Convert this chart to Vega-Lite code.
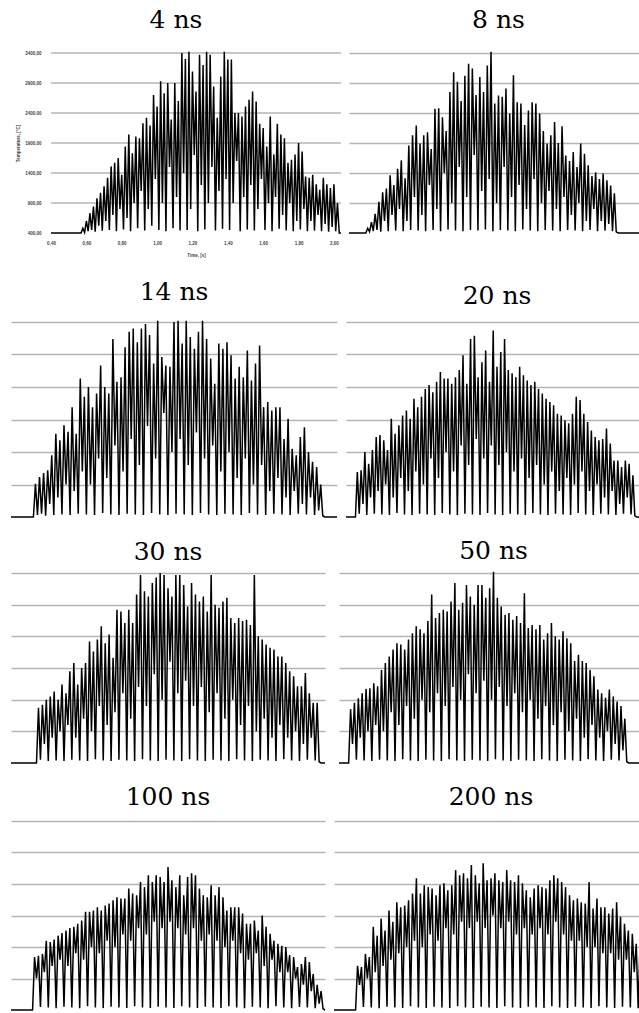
{
"$schema": "https://vega.github.io/schema/vega-lite/v6.json",
"background": "white",
"padding": {"left": 8, "top": 7, "right": 0, "bottom": 0},
"config": {
  "view": {"stroke": null},
  "title": {"font": "DejaVu Serif", "fontSize": 25, "fontWeight": "normal", "color": "black", "anchor": "middle", "frame": "group"},
  "line": {"color": "black", "strokeWidth": 1.5, "clip": true}
},
"datasets": {
"d4": [{"t":0.4,"v":400},{"t":0.57,"v":400},{"t":0.58,"v":480},{"t":0.59,"v":410},{"t":0.6,"v":600},{"t":0.61,"v":430},{"t":0.62,"v":730},{"t":0.63,"v":450},{"t":0.64,"v":840},{"t":0.65,"v":420},{"t":0.66,"v":980},{"t":0.67,"v":520},{"t":0.68,"v":1070},{"t":0.69,"v":440},{"t":0.7,"v":1180},{"t":0.71,"v":600},{"t":0.72,"v":1320},{"t":0.73,"v":450},{"t":0.74,"v":1510},{"t":0.75,"v":700},{"t":0.76,"v":1570},{"t":0.77,"v":430},{"t":0.78,"v":1650},{"t":0.79,"v":800},{"t":0.8,"v":1370},{"t":0.81,"v":460},{"t":0.82,"v":1840},{"t":0.83,"v":650},{"t":0.84,"v":2040},{"t":0.85,"v":430},{"t":0.86,"v":1730},{"t":0.87,"v":900},{"t":0.88,"v":2010},{"t":0.89,"v":480},{"t":0.9,"v":1980},{"t":0.91,"v":1100},{"t":0.92,"v":2230},{"t":0.93,"v":440},{"t":0.94,"v":2320},{"t":0.95,"v":800},{"t":0.96,"v":2190},{"t":0.97,"v":520},{"t":0.98,"v":2700},{"t":0.99,"v":1300},{"t":1.0,"v":2510},{"t":1.01,"v":450},{"t":1.02,"v":2930},{"t":1.03,"v":900},{"t":1.04,"v":2730},{"t":1.05,"v":430},{"t":1.06,"v":2900},{"t":1.07,"v":1500},{"t":1.08,"v":2290},{"t":1.09,"v":480},{"t":1.1,"v":2900},{"t":1.11,"v":1000},{"t":1.12,"v":2600},{"t":1.13,"v":440},{"t":1.14,"v":3400},{"t":1.15,"v":1400},{"t":1.16,"v":3300},{"t":1.17,"v":450},{"t":1.18,"v":3420},{"t":1.19,"v":800},{"t":1.2,"v":3090},{"t":1.21,"v":1700},{"t":1.22,"v":2760},{"t":1.23,"v":430},{"t":1.24,"v":3370},{"t":1.25,"v":1200},{"t":1.26,"v":3200},{"t":1.27,"v":460},{"t":1.28,"v":3420},{"t":1.29,"v":900},{"t":1.3,"v":3370},{"t":1.31,"v":1500},{"t":1.32,"v":2840},{"t":1.33,"v":440},{"t":1.34,"v":2320},{"t":1.35,"v":1100},{"t":1.36,"v":3010},{"t":1.37,"v":470},{"t":1.38,"v":3420},{"t":1.39,"v":1300},{"t":1.4,"v":3290},{"t":1.41,"v":450},{"t":1.42,"v":3290},{"t":1.43,"v":900},{"t":1.44,"v":2400},{"t":1.45,"v":1600},{"t":1.46,"v":2400},{"t":1.47,"v":430},{"t":1.48,"v":2340},{"t":1.49,"v":1000},{"t":1.5,"v":2510},{"t":1.51,"v":460},{"t":1.52,"v":2620},{"t":1.53,"v":1200},{"t":1.54,"v":2760},{"t":1.55,"v":440},{"t":1.56,"v":2590},{"t":1.57,"v":800},{"t":1.58,"v":2220},{"t":1.59,"v":1300},{"t":1.6,"v":2150},{"t":1.61,"v":450},{"t":1.62,"v":1840},{"t":1.63,"v":900},{"t":1.64,"v":2340},{"t":1.65,"v":430},{"t":1.66,"v":1710},{"t":1.67,"v":1000},{"t":1.68,"v":2220},{"t":1.69,"v":470},{"t":1.7,"v":2040},{"t":1.71,"v":700},{"t":1.72,"v":1980},{"t":1.73,"v":440},{"t":1.74,"v":1570},{"t":1.75,"v":900},{"t":1.76,"v":1620},{"t":1.77,"v":430},{"t":1.78,"v":1710},{"t":1.79,"v":600},{"t":1.8,"v":1900},{"t":1.81,"v":460},{"t":1.82,"v":1760},{"t":1.83,"v":800},{"t":1.84,"v":1340},{"t":1.85,"v":430},{"t":1.86,"v":1320},{"t":1.87,"v":600},{"t":1.88,"v":1370},{"t":1.89,"v":440},{"t":1.9,"v":1210},{"t":1.91,"v":700},{"t":1.92,"v":1120},{"t":1.93,"v":430},{"t":1.94,"v":1320},{"t":1.95,"v":550},{"t":1.96,"v":1210},{"t":1.97,"v":420},{"t":1.98,"v":1150},{"t":1.99,"v":500},{"t":2.0,"v":1210},{"t":2.01,"v":430},{"t":2.02,"v":900},{"t":2.03,"v":400},{"t":2.04,"v":400}],
"d8": [{"t":0.4,"v":400},{"t":0.49,"v":400},{"t":0.5,"v":480},{"t":0.51,"v":420},{"t":0.52,"v":580},{"t":0.53,"v":430},{"t":0.54,"v":720},{"t":0.55,"v":450},{"t":0.56,"v":920},{"t":0.57,"v":420},{"t":0.58,"v":1080},{"t":0.59,"v":600},{"t":0.6,"v":1140},{"t":0.61,"v":430},{"t":0.62,"v":1360},{"t":0.63,"v":700},{"t":0.64,"v":1200},{"t":0.65,"v":440},{"t":0.66,"v":1470},{"t":0.67,"v":800},{"t":0.68,"v":1610},{"t":0.69,"v":430},{"t":0.7,"v":1310},{"t":0.71,"v":600},{"t":0.72,"v":1860},{"t":0.73,"v":450},{"t":0.74,"v":2030},{"t":0.75,"v":1000},{"t":0.76,"v":2190},{"t":0.77,"v":440},{"t":0.78,"v":1890},{"t":0.79,"v":700},{"t":0.8,"v":2030},{"t":0.81,"v":430},{"t":0.82,"v":2080},{"t":0.83,"v":1200},{"t":0.84,"v":1800},{"t":0.85,"v":450},{"t":0.86,"v":2470},{"t":0.87,"v":800},{"t":0.88,"v":2480},{"t":0.89,"v":430},{"t":0.9,"v":2330},{"t":0.91,"v":1400},{"t":0.92,"v":2100},{"t":0.93,"v":460},{"t":0.94,"v":2750},{"t":0.95,"v":900},{"t":0.96,"v":3080},{"t":0.97,"v":440},{"t":0.98,"v":2920},{"t":0.99,"v":1500},{"t":1.0,"v":2600},{"t":1.01,"v":430},{"t":1.02,"v":3020},{"t":1.03,"v":1000},{"t":1.04,"v":3220},{"t":1.05,"v":450},{"t":1.06,"v":3140},{"t":1.07,"v":1700},{"t":1.08,"v":2700},{"t":1.09,"v":440},{"t":1.1,"v":3000},{"t":1.11,"v":1100},{"t":1.12,"v":2750},{"t":1.13,"v":460},{"t":1.14,"v":3190},{"t":1.15,"v":1300},{"t":1.16,"v":3420},{"t":1.17,"v":430},{"t":1.18,"v":2560},{"t":1.19,"v":900},{"t":1.2,"v":2690},{"t":1.21,"v":450},{"t":1.22,"v":2670},{"t":1.23,"v":1500},{"t":1.24,"v":2810},{"t":1.25,"v":440},{"t":1.26,"v":2390},{"t":1.27,"v":1000},{"t":1.28,"v":3030},{"t":1.29,"v":430},{"t":1.3,"v":2580},{"t":1.31,"v":1200},{"t":1.32,"v":2560},{"t":1.33,"v":460},{"t":1.34,"v":2200},{"t":1.35,"v":800},{"t":1.36,"v":2440},{"t":1.37,"v":440},{"t":1.38,"v":2580},{"t":1.39,"v":1300},{"t":1.4,"v":2560},{"t":1.41,"v":430},{"t":1.42,"v":2390},{"t":1.43,"v":900},{"t":1.44,"v":2100},{"t":1.45,"v":450},{"t":1.46,"v":1890},{"t":1.47,"v":1100},{"t":1.48,"v":2030},{"t":1.49,"v":440},{"t":1.5,"v":2250},{"t":1.51,"v":800},{"t":1.52,"v":1900},{"t":1.53,"v":430},{"t":1.54,"v":2180},{"t":1.55,"v":1000},{"t":1.56,"v":1690},{"t":1.57,"v":450},{"t":1.58,"v":1600},{"t":1.59,"v":700},{"t":1.6,"v":1750},{"t":1.61,"v":440},{"t":1.62,"v":1500},{"t":1.63,"v":900},{"t":1.64,"v":1890},{"t":1.65,"v":430},{"t":1.66,"v":1720},{"t":1.67,"v":600},{"t":1.68,"v":1530},{"t":1.69,"v":450},{"t":1.7,"v":1350},{"t":1.71,"v":800},{"t":1.72,"v":1410},{"t":1.73,"v":430},{"t":1.74,"v":1300},{"t":1.75,"v":600},{"t":1.76,"v":1390},{"t":1.77,"v":440},{"t":1.78,"v":1280},{"t":1.79,"v":550},{"t":1.8,"v":1190},{"t":1.81,"v":430},{"t":1.82,"v":1060},{"t":1.83,"v":420},{"t":1.84,"v":400},{"t":2.0,"v":400}],
"d14": [{"t":0.4,"v":400},{"t":0.51,"v":400},{"t":0.52,"v":910},{"t":0.53,"v":430},{"t":0.54,"v":1015},{"t":0.55,"v":450},{"t":0.56,"v":1077},{"t":0.57,"v":420},{"t":0.58,"v":1118},{"t":0.59,"v":600},{"t":0.6,"v":1350},{"t":0.61,"v":430},{"t":0.62,"v":1680},{"t":0.63,"v":700},{"t":0.64,"v":1580},{"t":0.65,"v":440},{"t":0.66,"v":1810},{"t":0.67,"v":900},{"t":0.68,"v":1710},{"t":0.69,"v":430},{"t":0.7,"v":2090},{"t":0.71,"v":800},{"t":0.72,"v":1680},{"t":0.73,"v":450},{"t":0.74,"v":2530},{"t":0.75,"v":1100},{"t":0.76,"v":2250},{"t":0.77,"v":440},{"t":0.78,"v":2400},{"t":0.79,"v":900},{"t":0.8,"v":2090},{"t":0.81,"v":430},{"t":0.82,"v":2300},{"t":0.83,"v":1300},{"t":0.84,"v":2730},{"t":0.85,"v":460},{"t":0.86,"v":2400},{"t":0.87,"v":1000},{"t":0.88,"v":2300},{"t":0.89,"v":440},{"t":0.9,"v":3140},{"t":0.91,"v":1500},{"t":0.92,"v":2480},{"t":0.93,"v":430},{"t":0.94,"v":2550},{"t":0.95,"v":1100},{"t":0.96,"v":3010},{"t":0.97,"v":450},{"t":0.98,"v":3250},{"t":0.99,"v":1600},{"t":1.0,"v":3300},{"t":1.01,"v":440},{"t":1.02,"v":3090},{"t":1.03,"v":1200},{"t":1.04,"v":3300},{"t":1.05,"v":430},{"t":1.06,"v":3370},{"t":1.07,"v":1800},{"t":1.08,"v":3200},{"t":1.09,"v":460},{"t":1.1,"v":2760},{"t":1.11,"v":1300},{"t":1.12,"v":3420},{"t":1.13,"v":440},{"t":1.14,"v":2860},{"t":1.15,"v":2000},{"t":1.16,"v":2730},{"t":1.17,"v":430},{"t":1.18,"v":2710},{"t":1.19,"v":1400},{"t":1.2,"v":3400},{"t":1.21,"v":450},{"t":1.22,"v":3420},{"t":1.23,"v":1600},{"t":1.24,"v":3070},{"t":1.25,"v":440},{"t":1.26,"v":3420},{"t":1.27,"v":1200},{"t":1.28,"v":3170},{"t":1.29,"v":430},{"t":1.3,"v":2990},{"t":1.31,"v":1700},{"t":1.32,"v":3250},{"t":1.33,"v":460},{"t":1.34,"v":3420},{"t":1.35,"v":1300},{"t":1.36,"v":3140},{"t":1.37,"v":440},{"t":1.38,"v":2840},{"t":1.39,"v":1500},{"t":1.4,"v":2450},{"t":1.41,"v":430},{"t":1.42,"v":3070},{"t":1.43,"v":1100},{"t":1.44,"v":2990},{"t":1.45,"v":450},{"t":1.46,"v":3090},{"t":1.47,"v":1400},{"t":1.48,"v":2890},{"t":1.49,"v":440},{"t":1.5,"v":2530},{"t":1.51,"v":1000},{"t":1.52,"v":2710},{"t":1.53,"v":430},{"t":1.54,"v":2550},{"t":1.55,"v":1300},{"t":1.56,"v":2960},{"t":1.57,"v":460},{"t":1.58,"v":2500},{"t":1.59,"v":900},{"t":1.6,"v":2760},{"t":1.61,"v":440},{"t":1.62,"v":3040},{"t":1.63,"v":1200},{"t":1.64,"v":2090},{"t":1.65,"v":430},{"t":1.66,"v":2170},{"t":1.67,"v":800},{"t":1.68,"v":2040},{"t":1.69,"v":450},{"t":1.7,"v":2090},{"t":1.71,"v":1000},{"t":1.72,"v":2090},{"t":1.73,"v":440},{"t":1.74,"v":1600},{"t":1.75,"v":700},{"t":1.76,"v":1910},{"t":1.77,"v":430},{"t":1.78,"v":1450},{"t":1.79,"v":800},{"t":1.8,"v":1350},{"t":1.81,"v":450},{"t":1.82,"v":1630},{"t":1.83,"v":600},{"t":1.84,"v":1780},{"t":1.85,"v":440},{"t":1.86,"v":1400},{"t":1.87,"v":700},{"t":1.88,"v":1250},{"t":1.89,"v":430},{"t":1.9,"v":1170},{"t":1.91,"v":500},{"t":1.92,"v":900},{"t":1.93,"v":420},{"t":1.94,"v":400},{"t":2.0,"v":400}],
"d20": [{"t":0.4,"v":400},{"t":0.45,"v":400},{"t":0.46,"v":1090},{"t":0.47,"v":450},{"t":0.48,"v":1120},{"t":0.49,"v":600},{"t":0.5,"v":1400},{"t":0.51,"v":430},{"t":0.52,"v":1220},{"t":0.53,"v":700},{"t":0.54,"v":1430},{"t":0.55,"v":450},{"t":0.56,"v":1630},{"t":0.57,"v":800},{"t":0.58,"v":1660},{"t":0.59,"v":440},{"t":0.6,"v":1580},{"t":0.61,"v":900},{"t":0.62,"v":1430},{"t":0.63,"v":430},{"t":0.64,"v":1910},{"t":0.65,"v":700},{"t":0.66,"v":1680},{"t":0.67,"v":460},{"t":0.68,"v":1810},{"t":0.69,"v":1000},{"t":0.7,"v":1960},{"t":0.71,"v":440},{"t":0.72,"v":2040},{"t":0.73,"v":800},{"t":0.74,"v":1910},{"t":0.75,"v":430},{"t":0.76,"v":2220},{"t":0.77,"v":1100},{"t":0.78,"v":2090},{"t":0.79,"v":450},{"t":0.8,"v":2250},{"t":0.81,"v":900},{"t":0.82,"v":2370},{"t":0.83,"v":440},{"t":0.84,"v":2430},{"t":0.85,"v":1300},{"t":0.86,"v":2320},{"t":0.87,"v":430},{"t":0.88,"v":2480},{"t":0.89,"v":1000},{"t":0.9,"v":2630},{"t":0.91,"v":460},{"t":0.92,"v":2530},{"t":0.93,"v":1400},{"t":0.94,"v":2530},{"t":0.95,"v":440},{"t":0.96,"v":2450},{"t":0.97,"v":1100},{"t":0.98,"v":2550},{"t":0.99,"v":430},{"t":1.0,"v":2660},{"t":1.01,"v":1500},{"t":1.02,"v":2890},{"t":1.03,"v":450},{"t":1.04,"v":2450},{"t":1.05,"v":1200},{"t":1.06,"v":3140},{"t":1.07,"v":440},{"t":1.08,"v":3190},{"t":1.09,"v":1600},{"t":1.1,"v":2550},{"t":1.11,"v":430},{"t":1.12,"v":2780},{"t":1.13,"v":1300},{"t":1.14,"v":2960},{"t":1.15,"v":460},{"t":1.16,"v":2480},{"t":1.17,"v":1500},{"t":1.18,"v":3270},{"t":1.19,"v":440},{"t":1.2,"v":2710},{"t":1.21,"v":1200},{"t":1.22,"v":2940},{"t":1.23,"v":430},{"t":1.24,"v":3140},{"t":1.25,"v":1400},{"t":1.26,"v":2660},{"t":1.27,"v":450},{"t":1.28,"v":2610},{"t":1.29,"v":1100},{"t":1.3,"v":2550},{"t":1.31,"v":440},{"t":1.32,"v":2710},{"t":1.33,"v":1300},{"t":1.34,"v":2580},{"t":1.35,"v":430},{"t":1.36,"v":2500},{"t":1.37,"v":1000},{"t":1.38,"v":2430},{"t":1.39,"v":460},{"t":1.4,"v":2480},{"t":1.41,"v":1200},{"t":1.42,"v":2370},{"t":1.43,"v":440},{"t":1.44,"v":2300},{"t":1.45,"v":900},{"t":1.46,"v":2220},{"t":1.47,"v":430},{"t":1.48,"v":2170},{"t":1.49,"v":1100},{"t":1.5,"v":2120},{"t":1.51,"v":450},{"t":1.52,"v":1990},{"t":1.53,"v":800},{"t":1.54,"v":1960},{"t":1.55,"v":440},{"t":1.56,"v":1890},{"t":1.57,"v":1000},{"t":1.58,"v":1840},{"t":1.59,"v":430},{"t":1.6,"v":1990},{"t":1.61,"v":900},{"t":1.62,"v":2250},{"t":1.63,"v":460},{"t":1.64,"v":2200},{"t":1.65,"v":1100},{"t":1.66,"v":1990},{"t":1.67,"v":440},{"t":1.68,"v":1860},{"t":1.69,"v":800},{"t":1.7,"v":1730},{"t":1.71,"v":430},{"t":1.72,"v":1630},{"t":1.73,"v":900},{"t":1.74,"v":1580},{"t":1.75,"v":450},{"t":1.76,"v":1600},{"t":1.77,"v":700},{"t":1.78,"v":1760},{"t":1.79,"v":440},{"t":1.8,"v":1530},{"t":1.81,"v":800},{"t":1.82,"v":1270},{"t":1.83,"v":430},{"t":1.84,"v":1270},{"t":1.85,"v":600},{"t":1.86,"v":1170},{"t":1.87,"v":450},{"t":1.88,"v":1270},{"t":1.89,"v":700},{"t":1.9,"v":1220},{"t":1.91,"v":440},{"t":1.92,"v":1040},{"t":1.93,"v":420},{"t":1.94,"v":400},{"t":2.0,"v":400}],
"d30": [{"t":0.4,"v":400},{"t":0.53,"v":400},{"t":0.54,"v":1270},{"t":0.55,"v":450},{"t":0.56,"v":1320},{"t":0.57,"v":700},{"t":0.58,"v":1400},{"t":0.59,"v":430},{"t":0.6,"v":1450},{"t":0.61,"v":800},{"t":0.62,"v":1530},{"t":0.63,"v":440},{"t":0.64,"v":1400},{"t":0.65,"v":900},{"t":0.66,"v":1640},{"t":0.67,"v":430},{"t":0.68,"v":1500},{"t":0.69,"v":1000},{"t":0.7,"v":1850},{"t":0.71,"v":450},{"t":0.72,"v":1980},{"t":0.73,"v":800},{"t":0.74,"v":1640},{"t":0.75,"v":440},{"t":0.76,"v":1900},{"t":0.77,"v":1100},{"t":0.78,"v":1980},{"t":0.79,"v":430},{"t":0.8,"v":2320},{"t":0.81,"v":900},{"t":0.82,"v":2160},{"t":0.83,"v":460},{"t":0.84,"v":2350},{"t":0.85,"v":1300},{"t":0.86,"v":2560},{"t":0.87,"v":440},{"t":0.88,"v":2290},{"t":0.89,"v":1000},{"t":0.9,"v":2430},{"t":0.91,"v":430},{"t":0.92,"v":2060},{"t":0.93,"v":1200},{"t":0.94,"v":2820},{"t":0.95,"v":450},{"t":0.96,"v":2790},{"t":0.97,"v":1500},{"t":0.98,"v":2610},{"t":0.99,"v":440},{"t":1.0,"v":2820},{"t":1.01,"v":1100},{"t":1.02,"v":2610},{"t":1.03,"v":430},{"t":1.04,"v":3060},{"t":1.05,"v":1600},{"t":1.06,"v":3370},{"t":1.07,"v":460},{"t":1.08,"v":3110},{"t":1.09,"v":1300},{"t":1.1,"v":3030},{"t":1.11,"v":440},{"t":1.12,"v":3240},{"t":1.13,"v":1800},{"t":1.14,"v":3330},{"t":1.15,"v":430},{"t":1.16,"v":3400},{"t":1.17,"v":1400},{"t":1.18,"v":3370},{"t":1.19,"v":450},{"t":1.2,"v":3160},{"t":1.21,"v":2000},{"t":1.22,"v":3030},{"t":1.23,"v":440},{"t":1.24,"v":3370},{"t":1.25,"v":1500},{"t":1.26,"v":3370},{"t":1.27,"v":430},{"t":1.28,"v":3210},{"t":1.29,"v":1700},{"t":1.3,"v":2870},{"t":1.31,"v":460},{"t":1.32,"v":3240},{"t":1.33,"v":1300},{"t":1.34,"v":3060},{"t":1.35,"v":440},{"t":1.36,"v":2950},{"t":1.37,"v":1600},{"t":1.38,"v":3030},{"t":1.39,"v":430},{"t":1.4,"v":2790},{"t":1.41,"v":1200},{"t":1.42,"v":3370},{"t":1.43,"v":450},{"t":1.44,"v":2900},{"t":1.45,"v":1500},{"t":1.46,"v":2850},{"t":1.47,"v":440},{"t":1.48,"v":2950},{"t":1.49,"v":1100},{"t":1.5,"v":3010},{"t":1.51,"v":430},{"t":1.52,"v":2690},{"t":1.53,"v":1400},{"t":1.54,"v":2610},{"t":1.55,"v":460},{"t":1.56,"v":2690},{"t":1.57,"v":1000},{"t":1.58,"v":2640},{"t":1.59,"v":440},{"t":1.6,"v":2660},{"t":1.61,"v":1300},{"t":1.62,"v":2580},{"t":1.63,"v":430},{"t":1.64,"v":3370},{"t":1.65,"v":900},{"t":1.66,"v":2400},{"t":1.67,"v":450},{"t":1.68,"v":2350},{"t":1.69,"v":1100},{"t":1.7,"v":2270},{"t":1.71,"v":440},{"t":1.72,"v":2220},{"t":1.73,"v":800},{"t":1.74,"v":2190},{"t":1.75,"v":430},{"t":1.76,"v":2080},{"t":1.77,"v":1000},{"t":1.78,"v":2080},{"t":1.79,"v":460},{"t":1.8,"v":1980},{"t":1.81,"v":800},{"t":1.82,"v":1850},{"t":1.83,"v":440},{"t":1.84,"v":1770},{"t":1.85,"v":900},{"t":1.86,"v":1610},{"t":1.87,"v":430},{"t":1.88,"v":1610},{"t":1.89,"v":700},{"t":1.9,"v":1820},{"t":1.91,"v":450},{"t":1.92,"v":1500},{"t":1.93,"v":800},{"t":1.94,"v":1350},{"t":1.95,"v":440},{"t":1.96,"v":1350},{"t":1.97,"v":420},{"t":1.98,"v":400},{"t":2.0,"v":400}],
"d50": [{"t":0.4,"v":400},{"t":0.45,"v":400},{"t":0.46,"v":1250},{"t":0.47,"v":700},{"t":0.48,"v":1350},{"t":0.49,"v":450},{"t":0.5,"v":1420},{"t":0.51,"v":800},{"t":0.52,"v":1500},{"t":0.53,"v":440},{"t":0.54,"v":1570},{"t":0.55,"v":900},{"t":0.56,"v":1580},{"t":0.57,"v":430},{"t":0.58,"v":1660},{"t":0.59,"v":1000},{"t":0.6,"v":1610},{"t":0.61,"v":450},{"t":0.62,"v":1870},{"t":0.63,"v":900},{"t":0.64,"v":1980},{"t":0.65,"v":440},{"t":0.66,"v":2080},{"t":0.67,"v":1200},{"t":0.68,"v":2190},{"t":0.69,"v":430},{"t":0.7,"v":2290},{"t":0.71,"v":1000},{"t":0.72,"v":2270},{"t":0.73,"v":460},{"t":0.74,"v":2190},{"t":0.75,"v":1300},{"t":0.76,"v":2350},{"t":0.77,"v":440},{"t":0.78,"v":2450},{"t":0.79,"v":1100},{"t":0.8,"v":2560},{"t":0.81,"v":430},{"t":0.82,"v":2510},{"t":0.83,"v":1400},{"t":0.84,"v":2450},{"t":0.85,"v":450},{"t":0.86,"v":2640},{"t":0.87,"v":1200},{"t":0.88,"v":3060},{"t":0.89,"v":440},{"t":0.9,"v":2690},{"t":0.91,"v":1500},{"t":0.92,"v":2770},{"t":0.93,"v":430},{"t":0.94,"v":2820},{"t":0.95,"v":1300},{"t":0.96,"v":2790},{"t":0.97,"v":460},{"t":0.98,"v":2950},{"t":0.99,"v":1600},{"t":1.0,"v":3240},{"t":1.01,"v":440},{"t":1.02,"v":2820},{"t":1.03,"v":1400},{"t":1.04,"v":2930},{"t":1.05,"v":430},{"t":1.06,"v":3210},{"t":1.07,"v":1800},{"t":1.08,"v":3030},{"t":1.09,"v":450},{"t":1.1,"v":2900},{"t":1.11,"v":1500},{"t":1.12,"v":3210},{"t":1.13,"v":440},{"t":1.14,"v":3210},{"t":1.15,"v":1700},{"t":1.16,"v":3010},{"t":1.17,"v":430},{"t":1.18,"v":3160},{"t":1.19,"v":1400},{"t":1.2,"v":3420},{"t":1.21,"v":460},{"t":1.22,"v":3010},{"t":1.23,"v":1600},{"t":1.24,"v":2870},{"t":1.25,"v":440},{"t":1.26,"v":2740},{"t":1.27,"v":1300},{"t":1.28,"v":2770},{"t":1.29,"v":430},{"t":1.3,"v":2660},{"t":1.31,"v":1500},{"t":1.32,"v":2720},{"t":1.33,"v":450},{"t":1.34,"v":2610},{"t":1.35,"v":1200},{"t":1.36,"v":3080},{"t":1.37,"v":440},{"t":1.38,"v":2530},{"t":1.39,"v":1400},{"t":1.4,"v":2580},{"t":1.41,"v":430},{"t":1.42,"v":2510},{"t":1.43,"v":1100},{"t":1.44,"v":2580},{"t":1.45,"v":460},{"t":1.46,"v":2350},{"t":1.47,"v":1300},{"t":1.48,"v":2450},{"t":1.49,"v":440},{"t":1.5,"v":2610},{"t":1.51,"v":1000},{"t":1.52,"v":2400},{"t":1.53,"v":430},{"t":1.54,"v":2350},{"t":1.55,"v":1200},{"t":1.56,"v":2480},{"t":1.57,"v":450},{"t":1.58,"v":2370},{"t":1.59,"v":900},{"t":1.6,"v":2290},{"t":1.61,"v":440},{"t":1.62,"v":2010},{"t":1.63,"v":1100},{"t":1.64,"v":2110},{"t":1.65,"v":430},{"t":1.66,"v":2010},{"t":1.67,"v":800},{"t":1.68,"v":1980},{"t":1.69,"v":460},{"t":1.7,"v":1870},{"t":1.71,"v":1000},{"t":1.72,"v":1770},{"t":1.73,"v":440},{"t":1.74,"v":1560},{"t":1.75,"v":800},{"t":1.76,"v":1500},{"t":1.77,"v":430},{"t":1.78,"v":1430},{"t":1.79,"v":900},{"t":1.8,"v":1560},{"t":1.81,"v":450},{"t":1.82,"v":1450},{"t":1.83,"v":700},{"t":1.84,"v":1370},{"t":1.85,"v":440},{"t":1.86,"v":1300},{"t":1.87,"v":600},{"t":1.88,"v":1100},{"t":1.89,"v":420},{"t":1.9,"v":400},{"t":2.0,"v":400}],
"d100": [{"t":0.4,"v":400},{"t":0.51,"v":400},{"t":0.52,"v":1240},{"t":0.53,"v":900},{"t":0.54,"v":1260},{"t":0.55,"v":450},{"t":0.56,"v":1290},{"t":0.57,"v":1000},{"t":0.58,"v":1500},{"t":0.59,"v":440},{"t":0.6,"v":1480},{"t":0.61,"v":1100},{"t":0.62,"v":1520},{"t":0.63,"v":430},{"t":0.64,"v":1580},{"t":0.65,"v":1200},{"t":0.66,"v":1620},{"t":0.67,"v":450},{"t":0.68,"v":1660},{"t":0.69,"v":1100},{"t":0.7,"v":1700},{"t":0.71,"v":440},{"t":0.72,"v":1720},{"t":0.73,"v":1300},{"t":0.74,"v":1770},{"t":0.75,"v":430},{"t":0.76,"v":1820},{"t":0.77,"v":1200},{"t":0.78,"v":1960},{"t":0.79,"v":460},{"t":0.8,"v":1960},{"t":0.81,"v":1400},{"t":0.82,"v":1980},{"t":0.83,"v":440},{"t":0.84,"v":2030},{"t":0.85,"v":1300},{"t":0.86,"v":1980},{"t":0.87,"v":430},{"t":0.88,"v":2060},{"t":0.89,"v":1500},{"t":0.9,"v":2090},{"t":0.91,"v":450},{"t":0.92,"v":2140},{"t":0.93,"v":1400},{"t":0.94,"v":2190},{"t":0.95,"v":440},{"t":0.96,"v":2170},{"t":0.97,"v":1600},{"t":0.98,"v":2170},{"t":0.99,"v":430},{"t":1.0,"v":2330},{"t":1.01,"v":1500},{"t":1.02,"v":2250},{"t":1.03,"v":460},{"t":1.04,"v":2220},{"t":1.05,"v":1700},{"t":1.06,"v":2430},{"t":1.07,"v":440},{"t":1.08,"v":2350},{"t":1.09,"v":1600},{"t":1.1,"v":2540},{"t":1.11,"v":430},{"t":1.12,"v":2430},{"t":1.13,"v":1800},{"t":1.14,"v":2540},{"t":1.15,"v":450},{"t":1.16,"v":2510},{"t":1.17,"v":1700},{"t":1.18,"v":2430},{"t":1.19,"v":440},{"t":1.2,"v":2670},{"t":1.21,"v":1800},{"t":1.22,"v":2460},{"t":1.23,"v":430},{"t":1.24,"v":2350},{"t":1.25,"v":1700},{"t":1.26,"v":2540},{"t":1.27,"v":460},{"t":1.28,"v":2220},{"t":1.29,"v":1600},{"t":1.3,"v":2510},{"t":1.31,"v":440},{"t":1.32,"v":2570},{"t":1.33,"v":1700},{"t":1.34,"v":2540},{"t":1.35,"v":430},{"t":1.36,"v":2330},{"t":1.37,"v":1500},{"t":1.38,"v":2220},{"t":1.39,"v":450},{"t":1.4,"v":2190},{"t":1.41,"v":1600},{"t":1.42,"v":2380},{"t":1.43,"v":440},{"t":1.44,"v":2220},{"t":1.45,"v":1500},{"t":1.46,"v":2350},{"t":1.47,"v":430},{"t":1.48,"v":2190},{"t":1.49,"v":1400},{"t":1.5,"v":1980},{"t":1.51,"v":460},{"t":1.52,"v":2030},{"t":1.53,"v":1500},{"t":1.54,"v":2030},{"t":1.55,"v":440},{"t":1.56,"v":2030},{"t":1.57,"v":1300},{"t":1.58,"v":1930},{"t":1.59,"v":430},{"t":1.6,"v":1770},{"t":1.61,"v":1200},{"t":1.62,"v":1770},{"t":1.63,"v":450},{"t":1.64,"v":1820},{"t":1.65,"v":1300},{"t":1.66,"v":1660},{"t":1.67,"v":440},{"t":1.68,"v":1900},{"t":1.69,"v":1100},{"t":1.7,"v":1720},{"t":1.71,"v":430},{"t":1.72,"v":1610},{"t":1.73,"v":1200},{"t":1.74,"v":1500},{"t":1.75,"v":460},{"t":1.76,"v":1450},{"t":1.77,"v":1000},{"t":1.78,"v":1420},{"t":1.79,"v":440},{"t":1.8,"v":1400},{"t":1.81,"v":1000},{"t":1.82,"v":1270},{"t":1.83,"v":430},{"t":1.84,"v":1240},{"t":1.85,"v":900},{"t":1.86,"v":1080},{"t":1.87,"v":450},{"t":1.88,"v":1130},{"t":1.89,"v":800},{"t":1.9,"v":1240},{"t":1.91,"v":440},{"t":1.92,"v":1160},{"t":1.93,"v":700},{"t":1.94,"v":970},{"t":1.95,"v":430},{"t":1.96,"v":800},{"t":1.97,"v":500},{"t":1.98,"v":700},{"t":1.99,"v":420},{"t":2.0,"v":400}],
"d200": [{"t":0.4,"v":400},{"t":0.51,"v":400},{"t":0.52,"v":1100},{"t":0.53,"v":800},{"t":0.54,"v":1080},{"t":0.55,"v":450},{"t":0.56,"v":1290},{"t":0.57,"v":900},{"t":0.58,"v":1240},{"t":0.59,"v":440},{"t":0.6,"v":1720},{"t":0.61,"v":1000},{"t":0.62,"v":1580},{"t":0.63,"v":430},{"t":0.64,"v":1850},{"t":0.65,"v":1100},{"t":0.66,"v":1660},{"t":0.67,"v":450},{"t":0.68,"v":1980},{"t":0.69,"v":1200},{"t":0.7,"v":1800},{"t":0.71,"v":440},{"t":0.72,"v":2110},{"t":0.73,"v":1300},{"t":0.74,"v":2030},{"t":0.75,"v":430},{"t":0.76,"v":2060},{"t":0.77,"v":1400},{"t":0.78,"v":2140},{"t":0.79,"v":460},{"t":0.8,"v":2250},{"t":0.81,"v":1500},{"t":0.82,"v":2490},{"t":0.83,"v":440},{"t":0.84,"v":2250},{"t":0.85,"v":1400},{"t":0.86,"v":2380},{"t":0.87,"v":430},{"t":0.88,"v":2350},{"t":0.89,"v":1600},{"t":0.9,"v":2330},{"t":0.91,"v":450},{"t":0.92,"v":2220},{"t":0.93,"v":1500},{"t":0.94,"v":2380},{"t":0.95,"v":440},{"t":0.96,"v":2410},{"t":0.97,"v":1700},{"t":0.98,"v":2300},{"t":0.99,"v":430},{"t":1.0,"v":2380},{"t":1.01,"v":1600},{"t":1.02,"v":2620},{"t":1.03,"v":460},{"t":1.04,"v":2540},{"t":1.05,"v":1800},{"t":1.06,"v":2570},{"t":1.07,"v":440},{"t":1.08,"v":2490},{"t":1.09,"v":1700},{"t":1.1,"v":2700},{"t":1.11,"v":430},{"t":1.12,"v":2540},{"t":1.13,"v":1800},{"t":1.14,"v":2410},{"t":1.15,"v":450},{"t":1.16,"v":2730},{"t":1.17,"v":1700},{"t":1.18,"v":2460},{"t":1.19,"v":440},{"t":1.2,"v":2490},{"t":1.21,"v":1900},{"t":1.22,"v":2570},{"t":1.23,"v":430},{"t":1.24,"v":2460},{"t":1.25,"v":1700},{"t":1.26,"v":2430},{"t":1.27,"v":460},{"t":1.28,"v":2620},{"t":1.29,"v":1800},{"t":1.3,"v":2460},{"t":1.31,"v":440},{"t":1.32,"v":2430},{"t":1.33,"v":1600},{"t":1.34,"v":2540},{"t":1.35,"v":430},{"t":1.36,"v":2410},{"t":1.37,"v":1700},{"t":1.38,"v":2300},{"t":1.39,"v":450},{"t":1.4,"v":2190},{"t":1.41,"v":1600},{"t":1.42,"v":2330},{"t":1.43,"v":440},{"t":1.44,"v":2380},{"t":1.45,"v":1700},{"t":1.46,"v":2350},{"t":1.47,"v":430},{"t":1.48,"v":2330},{"t":1.49,"v":1600},{"t":1.5,"v":2460},{"t":1.51,"v":460},{"t":1.52,"v":2540},{"t":1.53,"v":1800},{"t":1.54,"v":2490},{"t":1.55,"v":440},{"t":1.56,"v":2430},{"t":1.57,"v":1600},{"t":1.58,"v":2350},{"t":1.59,"v":430},{"t":1.6,"v":2220},{"t":1.61,"v":1500},{"t":1.62,"v":2140},{"t":1.63,"v":450},{"t":1.64,"v":2170},{"t":1.65,"v":1500},{"t":1.66,"v":2110},{"t":1.67,"v":440},{"t":1.68,"v":2090},{"t":1.69,"v":1400},{"t":1.7,"v":2430},{"t":1.71,"v":430},{"t":1.72,"v":2010},{"t":1.73,"v":1400},{"t":1.74,"v":2170},{"t":1.75,"v":460},{"t":1.76,"v":2030},{"t":1.77,"v":1300},{"t":1.78,"v":2030},{"t":1.79,"v":440},{"t":1.8,"v":1930},{"t":1.81,"v":1300},{"t":1.82,"v":2010},{"t":1.83,"v":430},{"t":1.84,"v":2110},{"t":1.85,"v":1200},{"t":1.86,"v":1880},{"t":1.87,"v":450},{"t":1.88,"v":1770},{"t":1.89,"v":1200},{"t":1.9,"v":1660},{"t":1.91,"v":440},{"t":1.92,"v":1610},{"t":1.93,"v":1000},{"t":1.94,"v":1450},{"t":1.95,"v":430},{"t":1.96,"v":1500},{"t":1.97,"v":900},{"t":1.98,"v":1290},{"t":1.99,"v":440},{"t":2.0,"v":1100}],
"grid": [{"g":900},{"g":1400},{"g":1900},{"g":2400},{"g":2900},{"g":3400}]
},
"spacing": 18,
"vconcat": [
 {"spacing": 2, "hconcat": [
  {"width": 330, "height": 180, "title": {"text": "4 ns", "offset": 16},
   "layer": [
    {"data": {"name": "grid"}, "mark": {"type": "rule", "color": "#b5b5b5", "strokeWidth": 1.3},
     "encoding": {
      "y": {"field": "g", "type": "quantitative", "scale": {"domain": [400, 3400], "nice": false, "zero": false},
        "axis": {"values": [400,900,1400,1900,2400,2900,3400], "labelExpr": "replace(format(datum.value,'.2f'),'.',',')", "title": "Temperature, [°C]", "offset": -40, "minExtent": 0, "grid": false, "ticks": false, "domain": false, "labelOverlap": false, "labelFont": "Liberation Sans", "titleFont": "Liberation Sans", "labelFontSize": 4.5, "titleFontSize": 4.5, "labelFontWeight": "bold", "titleFontWeight": "bold", "labelColor": "#444", "titleColor": "#444", "labelPadding": 10, "titlePadding": 4}},
      "x": {"datum": 0.4}, "x2": {"datum": 2.04}}},
    {"data": {"name": "d4"}, "mark": "line",
     "encoding": {
      "x": {"field": "t", "type": "quantitative", "scale": {"domain": [0.1738, 2.04], "nice": false, "zero": false},
        "axis": {"values": [0.4,0.6,0.8,1.0,1.2,1.4,1.6,1.8,2.0], "labelExpr": "replace(format(datum.value,'.2f'),'.',',')", "title": "Time, [s]", "titleX": 185, "grid": false, "ticks": false, "domain": false, "labelOverlap": false, "labelFont": "Liberation Sans", "titleFont": "Liberation Sans", "labelFontSize": 4.5, "titleFontSize": 4.5, "labelFontWeight": "bold", "titleFontWeight": "bold", "labelColor": "#444", "titleColor": "#444", "labelPadding": 7, "titlePadding": 8}},
      "y": {"field": "v", "type": "quantitative", "scale": {"domain": [400, 3400], "nice": false, "zero": false},
        "axis": {"values": [400,900,1400,1900,2400,2900,3400], "labelExpr": "replace(format(datum.value,'.2f'),'.',',')", "title": "Temperature, [°C]", "offset": -40, "minExtent": 0, "grid": false, "ticks": false, "domain": false, "labelOverlap": false, "labelFont": "Liberation Sans", "titleFont": "Liberation Sans", "labelFontSize": 4.5, "titleFontSize": 4.5, "labelFontWeight": "bold", "titleFontWeight": "bold", "labelColor": "#444", "titleColor": "#444", "labelPadding": 10, "titlePadding": 4}}
     }}
   ]},
  {"width": 299, "height": 208, "title": {"text": "8 ns", "offset": 16}, "data": {"name": "d8"}, "mark": "line",
   "encoding": {
    "x": {"field": "t", "type": "quantitative", "scale": {"domain": [0.4, 2.0], "nice": false, "zero": false}, "axis": null},
    "y": {"field": "v", "type": "quantitative", "scale": {"domain": [-66.7, 3400], "nice": false, "zero": false},
      "axis": {"values": [900,1400,1900,2400,2900,3400], "labels": false, "ticks": false, "domain": false, "title": null, "grid": true, "gridColor": "#b5b5b5", "gridWidth": 1.3, "minExtent": 0, "maxExtent": 0}}
   }}
 ]},
 {"spacing": 3, "hconcat": [
  {"width": 326, "height": 195, "title": {"text": "14 ns", "offset": 13}, "data": {"name": "d14"}, "mark": "line",
   "encoding": {
    "x": {"field": "t", "type": "quantitative", "scale": {"domain": [0.4, 2.0], "nice": false, "zero": false}, "axis": null},
    "y": {"field": "v", "type": "quantitative", "scale": {"domain": [400, 3400], "nice": false, "zero": false},
      "axis": {"values": [900,1400,1900,2400,2900,3400], "labels": false, "ticks": false, "domain": false, "title": null, "grid": true, "gridColor": "#b5b5b5", "gridWidth": 1.3, "minExtent": 0, "maxExtent": 0}}
   }},
  {"width": 302, "height": 195, "title": {"text": "20 ns", "offset": 13}, "data": {"name": "d20"}, "mark": "line",
   "encoding": {
    "x": {"field": "t", "type": "quantitative", "scale": {"domain": [0.4, 2.0], "nice": false, "zero": false}, "axis": null},
    "y": {"field": "v", "type": "quantitative", "scale": {"domain": [400, 3400], "nice": false, "zero": false},
      "axis": {"values": [900,1400,1900,2400,2900,3400], "labels": false, "ticks": false, "domain": false, "title": null, "grid": true, "gridColor": "#b5b5b5", "gridWidth": 1.3, "minExtent": 0, "maxExtent": 0}}
   }}
 ]},
 {"spacing": 8, "hconcat": [
  {"width": 314, "height": 194, "title": {"text": "30 ns", "offset": 5}, "data": {"name": "d30"}, "mark": "line",
   "encoding": {
    "x": {"field": "t", "type": "quantitative", "scale": {"domain": [0.4, 2.0], "nice": false, "zero": false}, "axis": null},
    "y": {"field": "v", "type": "quantitative", "scale": {"domain": [336.8, 3400], "nice": false, "zero": false},
      "axis": {"values": [900,1400,1900,2400,2900,3400], "labels": false, "ticks": false, "domain": false, "title": null, "grid": true, "gridColor": "#b5b5b5", "gridWidth": 1.3, "minExtent": 0, "maxExtent": 0}}
   }},
  {"width": 309, "height": 194, "title": {"text": "50 ns", "offset": 5}, "data": {"name": "d50"}, "mark": "line",
   "encoding": {
    "x": {"field": "t", "type": "quantitative", "scale": {"domain": [0.4, 2.0], "nice": false, "zero": false}, "axis": null},
    "y": {"field": "v", "type": "quantitative", "scale": {"domain": [336.8, 3400], "nice": false, "zero": false},
      "axis": {"values": [900,1400,1900,2400,2900,3400], "labels": false, "ticks": false, "domain": false, "title": null, "grid": true, "gridColor": "#b5b5b5", "gridWidth": 1.3, "minExtent": 0, "maxExtent": 0}}
   }}
 ]},
 {"spacing": 3, "hconcat": [
  {"width": 314, "height": 189, "title": {"text": "100 ns", "offset": 11}, "data": {"name": "d100"}, "mark": "line",
   "encoding": {
    "x": {"field": "t", "type": "quantitative", "scale": {"domain": [0.4, 2.0], "nice": false, "zero": false}, "axis": null},
    "y": {"field": "v", "type": "quantitative", "scale": {"domain": [400, 3400], "nice": false, "zero": false},
      "axis": {"values": [900,1400,1900,2400,2900,3400], "labels": false, "ticks": false, "domain": false, "title": null, "grid": true, "gridColor": "#b5b5b5", "gridWidth": 1.3, "minExtent": 0, "maxExtent": 0}}
   }},
  {"width": 314, "height": 189, "title": {"text": "200 ns", "offset": 11}, "data": {"name": "d200"}, "mark": "line",
   "encoding": {
    "x": {"field": "t", "type": "quantitative", "scale": {"domain": [0.4, 2.0], "nice": false, "zero": false}, "axis": null},
    "y": {"field": "v", "type": "quantitative", "scale": {"domain": [400, 3400], "nice": false, "zero": false},
      "axis": {"values": [900,1400,1900,2400,2900,3400], "labels": false, "ticks": false, "domain": false, "title": null, "grid": true, "gridColor": "#b5b5b5", "gridWidth": 1.3, "minExtent": 0, "maxExtent": 0}}
   }}
 ]}
]
}
